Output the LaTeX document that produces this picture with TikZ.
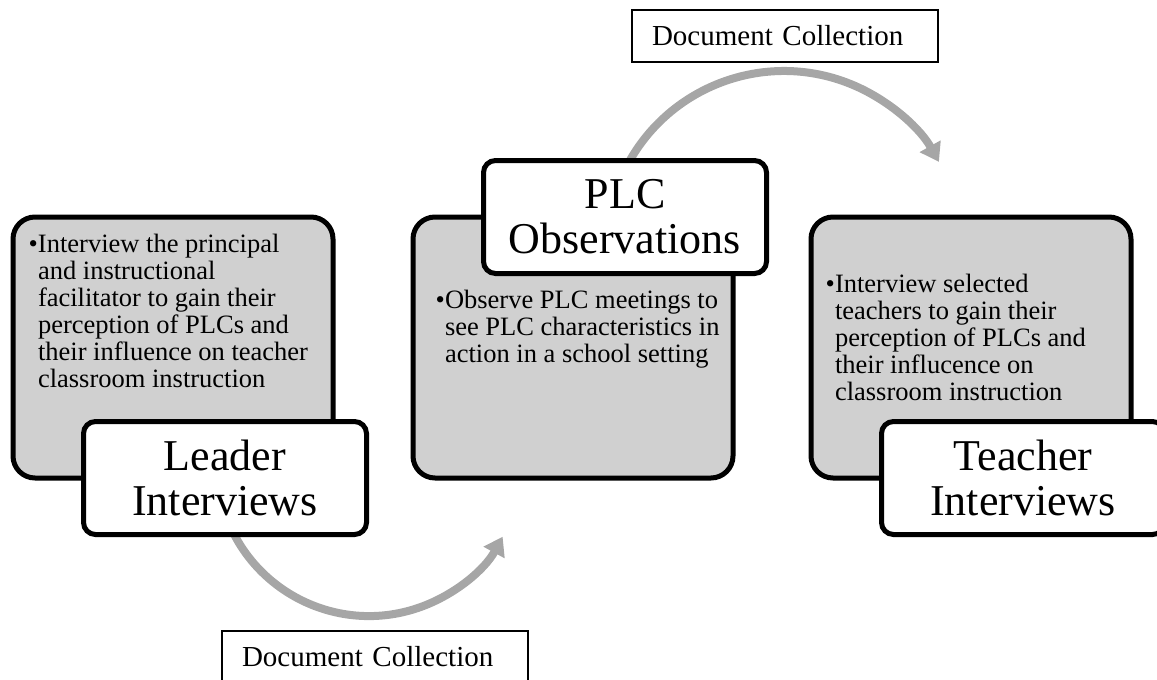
\documentclass[tikz,border=0pt]{standalone}
\usepackage{fontspec}
\setmainfont{Liberation Serif}
\usepackage{xcolor}
\usetikzlibrary{arrows.meta, backgrounds}

\definecolor{boxgray}{RGB}{208,208,208}
\definecolor{arcgray}{RGB}{166,166,166}

\begin{document}
\begin{tikzpicture}[
    x=1pt, y=-1pt,
    every node/.style={inner sep=0pt, outer sep=0pt},
    stagebox/.style={rectangle, rounded corners=22pt, draw=black, line width=5pt, fill=boxgray, minimum width=320pt, minimum height=261pt},
    stagelabel/.style={rectangle, rounded corners=12pt, draw=black, line width=5pt, fill=white, minimum width=283pt, minimum height=113pt, align=center, font=\fontsize{44}{45}\selectfont},
    stagetext/.style={anchor=base west, font=\fontsize{26.5}{27}\selectfont},
    docbox/.style={rectangle, draw=black, line width=1.5pt, minimum width=306pt, minimum height=52pt, text width=266pt, font=\fontsize{29}{30}\selectfont},
    flowarc/.style={draw=arcgray, line width=8pt, -{Triangle[length=18pt, width=23pt]}}
]

\useasboundingbox (0,0) rectangle (1157,680);
\clip (0,0) rectangle (1157,680);

% grey stage boxes
\node (lead) [stagebox] at (173,347.5) {};
\node (obs) [stagebox] at (573,347.5) {};
\node (teach) [stagebox] at (971,347.5) {};

% bullet text inside the boxes
\node (leadtxt) [stagetext] at ([shift={(25,35)}]lead.north west) {\parbox[t]{300pt}{\raggedright\leavevmode\llap{\textbullet}Interview the principal\\and instructional\\facilitator to gain their\\perception of PLCs and\\their influence on teacher\\classroom instruction}};
\node (obstxt) [stagetext] at ([shift={(32,91)}]obs.north west) {\parbox[t]{300pt}{\raggedright\leavevmode\llap{\textbullet}Observe PLC meetings to\\see PLC characteristics in\\action in a school setting}};
\node (teachtxt) [stagetext] at ([shift={(24,75)}]teach.north west) {\parbox[t]{300pt}{\raggedright\leavevmode\llap{\textbullet}Interview selected\\teachers to gain their\\perception of PLCs and\\their influcence on\\classroom instruction}};

% white title labels
\node (leadlbl) [stagelabel] at ([xshift=52]lead.south) {Leader\\Interviews};
\node (obslbl) [stagelabel] at ([xshift=52]obs.north) {PLC\\Observations};
\node (teachlbl) [stagelabel] at ([xshift=52]teach.south) {Teacher\\Interviews};

% document collection notes (the lower one runs off the page)
\node (topdoc) [docbox] at (785,36) {Document Collection};
\node (botdoc) [docbox] at (375,657) {Document Collection};

% curved arrows behind the labels
\begin{pgfonlayer}{background}
\draw [flowarc] ([shift={(1,37.9)}]leadlbl.center) arc[start angle=160, end angle=28.6, radius=152.2];
\draw [flowarc] ([shift={(-1.9,-43.5)}]obslbl.center) arc[start angle=205, end angle=330.8, radius=177.5];
\end{pgfonlayer}

\end{tikzpicture}
\end{document}
